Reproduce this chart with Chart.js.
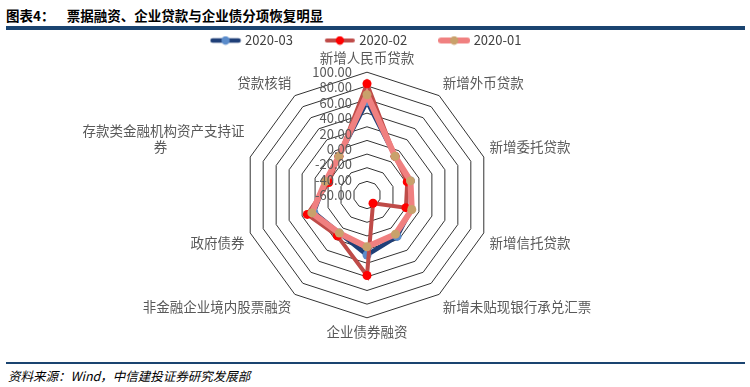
<!DOCTYPE html>
<html><head><meta charset="utf-8">
<script src="https://cdn.jsdelivr.net/npm/chart.js@4.4.1/dist/chart.umd.min.js"></script>
<style>
html,body{margin:0;padding:0;background:#fff;width:750px;height:387px;overflow:hidden;font-family:"Noto Sans CJK SC",sans-serif;}
#title{position:absolute;left:6px;top:5px;font-size:13.5px;font-weight:bold;color:#000;white-space:pre;}
#rule1{position:absolute;left:6px;top:26px;width:739px;height:4px;background:#1a4470;}
#rule2{position:absolute;left:6px;top:362px;width:739px;height:2px;background:#1a4470;}
#src{position:absolute;left:8px;top:366px;font-size:12.5px;font-style:italic;color:#000;}
#wrap{position:absolute;left:0;top:0;width:750px;height:360px;}
</style></head>
<body>
<div id="title">图表4：    票据融资、企业贷款与企业债分项恢复明显</div>
<div id="rule1"></div>
<div id="wrap"><canvas id="c"></canvas></div>
<div id="rule2"></div>
<div id="src">资料来源：Wind，中信建投证券研究发展部</div>
<script>
const categories = ['新增人民币贷款','新增外币贷款','新增委托贷款','新增信托贷款','新增未贴现银行承兑汇票','企业债券融资','非金融企业境内股票融资','政府债券',['存款类金融机构资产支持证','券\u3000\u3000\u3000\u3000\u3000\u2002 '],'贷款核销'];
const seriesNames = ['2020-01','2020-02','2020-03'];
const s2020_01 = [67, -10, -13, -11, -9, -4, -11, 5, -16, -10];
const s2020_02 = [83, -10, -18, -20, -65, 38, -6, 12, -21, -10];
const s2020_03 = [57, -10, -13, -12, -5, 8, -11, 2, -16, -10];
const tickValues = [100, 80, 60, 40, 20, 0, -20, -40, -60];

const FONT = '"Noto Sans CJK SC", sans-serif';

function legendIcon(lineColor, lineW, dotColor) {
  const c = document.createElement('canvas');
  c.width = 32; c.height = 10;
  const x = c.getContext('2d');
  x.strokeStyle = lineColor; x.lineWidth = lineW; x.lineCap = 'round';
  x.beginPath(); x.moveTo(3, 5); x.lineTo(29, 5); x.stroke();
  x.fillStyle = dotColor; x.beginPath(); x.arc(16, 5, 4.2, 0, Math.PI * 2); x.fill();
  return c;
}

const styles = [
  {line:'#f08080', w:6, dot:'#c9a16b'},
  {line:'#bf4b48', w:4, dot:'#ff0000'},
  {line:'#1f3f78', w:4.5, dot:'#5b8ccb'}
];
const dataSets = [s2020_01, s2020_02, s2020_03];

const tickPlugin = {
  id: 'tickLabels',
  afterDatasetsDraw(chart) {
    const s = chart.scales.r;
    const ctx = chart.ctx;
    const R = s.drawingArea;
    ctx.save();
    ctx.font = '13px ' + FONT;
    ctx.fillStyle = '#595959';
    ctx.textAlign = 'right';
    ctx.textBaseline = 'middle';
    tickValues.forEach((v, i) => {
      ctx.fillText(v.toFixed(2), s.xCenter - 15, s.yCenter - R + i * R / 8);
    });
    ctx.restore();
  }
};

const legendFit = {
  id: 'legendFit',
  beforeInit(chart) {
    const orig = chart.legend.fit;
    chart.legend.fit = function () { orig.bind(chart.legend)(); this.height = 50; };
  }
};

new Chart(document.getElementById('c'), {
  type: 'radar',
  data: {
    labels: categories,
    datasets: dataSets.map((d, i) => ({
      label: seriesNames[i],
      data: d,
      borderColor: styles[i].line,
      borderWidth: styles[i].w,
      backgroundColor: 'transparent',
      fill: false,
      pointRadius: 4.5,
      pointBackgroundColor: styles[i].dot,
      pointBorderColor: styles[i].dot,
      pointBorderWidth: 0,
      pointStyle: 'circle',
      tension: 0
    }))
  },
  options: {
    responsive: true,
    maintainAspectRatio: false,
    animation: false,
    layout: {padding: {left: 0, right: 16, top: 0, bottom: 20}},
    plugins: {
      tooltip: {enabled: false},
      legend: {
        reverse: true,
        position: 'top',
        labels: {
          usePointStyle: true,
          pointStyleWidth: 26,
          padding: 34,
          color: '#404040',
          font: {family: FONT, size: 13},
          generateLabels(chart) {
            return chart.data.datasets.map((ds, i) => ({
              text: ds.label,
              pointStyle: legendIcon(styles[i].line, styles[i].w, styles[i].dot),
              fillStyle: styles[i].line,
              strokeStyle: styles[i].line,
              lineWidth: 0,
              hidden: false,
              datasetIndex: i,
              fontColor: '#404040'
            }));
          }
        }
      }
    },
    scales: {
      r: {
        min: -80, max: 100,
        ticks: {display: false, stepSize: 20},
        angleLines: {display: false},
        grid: {color: '#333333', lineWidth: 1},
        pointLabels: {
          color: '#595959',
          padding: 6,
          font: {family: FONT, size: 13.5}
        }
      }
    }
  },
  plugins: [tickPlugin, legendFit]
});
</script>
</body></html>
